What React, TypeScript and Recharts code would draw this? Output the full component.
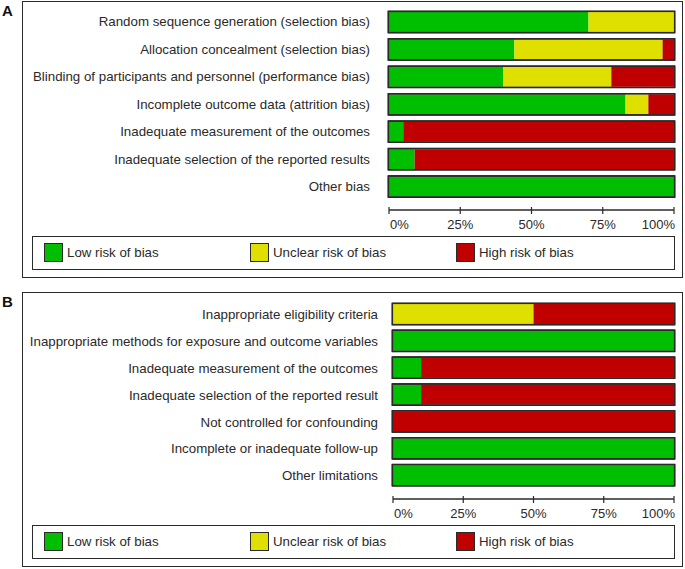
import { BarChart, Bar, XAxis, YAxis, Rectangle } from 'recharts';

const domainsA = [
  'Random sequence generation (selection bias)',
  'Allocation concealment (selection bias)',
  'Blinding of participants and personnel (performance bias)',
  'Incomplete outcome data (attrition bias)',
  'Inadequate measurement of the outcomes',
  'Inadequate selection of the reported results',
  'Other bias',
];
const lowA = [70, 44, 40, 83, 5, 9, 100];
const unclearA = [30, 52, 38, 8, 0, 0, 0];
const highA = [0, 4, 22, 9, 95, 91, 0];

const domainsB = [
  'Inappropriate eligibility criteria',
  'Inappropriate methods for exposure and outcome variables',
  'Inadequate measurement of the outcomes',
  'Inadequate selection of the reported result',
  'Not controlled for confounding',
  'Incomplete or inadequate follow-up',
  'Other limitations',
];
const lowB = [0, 100, 10, 10, 0, 100, 100];
const unclearB = [50, 0, 0, 0, 0, 0, 0];
const highB = [50, 0, 90, 90, 100, 0, 0];

const xTicks = [0, 25, 50, 75, 100];
const seriesKeys = ['low', 'unclear', 'high'];
const seriesNames = ['Low risk of bias', 'Unclear risk of bias', 'High risk of bias'];
const seriesColors = ['#00bf00', '#e0e000', '#c00000'];

const FONT = '"Liberation Sans", Arial, sans-serif';
const INK = '#2a2a2a';

function build(names: string[], low: number[], unclear: number[], high: number[]) {
  return names.map((name, i) => ({ name, low: low[i], unclear: unclear[i], high: high[i] }));
}

const dataA = build(domainsA, lowA, unclearA, highA);
const dataB = build(domainsB, lowB, unclearB, highB);

// segment + outline of the whole row (drawn just outside the bar so fills never cover it)
function OutlinedSegment(props: any) {
  const { x, y, width, height, fill, background } = props;
  return (
    <g>
      {width > 0 && <Rectangle x={x} y={y} width={width} height={height} fill={fill} />}
      {background && (
        <rect
          x={background.x - 0.6}
          y={y - 0.6}
          width={background.width + 1.2}
          height={height + 1.2}
          fill="none"
          stroke={INK}
          strokeWidth={1.3}
        />
      )}
    </g>
  );
}

function PercentTick(props: any) {
  const { x, y, payload } = props;
  const v = payload.value;
  const anchor = v === 0 ? 'start' : v === 100 ? 'end' : 'middle';
  const tx = v === 0 || v === 100 ? x + 1 : x;
  return (
    <g>
      <line x1={x} x2={x} y1={y - 3} y2={y + 4} stroke={INK} strokeWidth={1.2} />
      <text x={tx} y={y + 19} textAnchor={anchor} fontSize={13} fill={INK} fontFamily={FONT}>
        {v}%
      </text>
    </g>
  );
}

function RiskChart({ data, top, height, marginTop, axisWidth, padBottom, labelGap }: any) {
  return (
    <div style={{ position: 'absolute', left: 0, top }}>
      <BarChart
        width={685}
        height={height}
        data={data}
        layout="vertical"
        margin={{ top: marginTop, right: 11, left: 0, bottom: 0 }}
      >
        <XAxis
          type="number"
          domain={[0, 100]}
          ticks={xTicks}
          height={30}
          tickSize={0}
          tickMargin={0}
          tickLine={false}
          axisLine={{ stroke: INK, strokeWidth: 1.5 }}
          tick={<PercentTick />}
          interval={0}
        />
        <YAxis
          type="category"
          dataKey="name"
          width={axisWidth}
          axisLine={false}
          tickLine={false}
          tickSize={0}
          tickMargin={labelGap}
          padding={{ top: 0, bottom: padBottom }}
          interval={0}
          tick={{ fontSize: 13.3, fill: INK, fontFamily: FONT }}
        />
        {seriesKeys.map((k, i) => (
          <Bar
            key={k}
            dataKey={k}
            stackId="r"
            barSize={20}
            fill={seriesColors[i]}
            isAnimationActive={false}
            shape={<OutlinedSegment />}
          />
        ))}
      </BarChart>
    </div>
  );
}

function LegendBox({ top }: { top: number }) {
  const offsets = [11, 217, 423];
  return (
    <div
      style={{
        position: 'absolute',
        left: 32,
        top,
        width: 641,
        height: 32,
        border: `1.5px solid ${INK}`,
        fontFamily: FONT,
        fontSize: 13.3,
        color: INK,
      }}
    >
      {seriesNames.map((n, i) => (
        <div key={n} style={{ position: 'absolute', left: offsets[i], top: 6, display: 'flex', alignItems: 'center' }}>
          <div style={{ width: 17, height: 17, background: seriesColors[i], border: `1px solid ${INK}` }} />
          <span style={{ marginLeft: 4 }}>{n}</span>
        </div>
      ))}
    </div>
  );
}

function PanelFrame({ top, height, label }: { top: number; height: number; label: string }) {
  return (
    <>
      <div
        style={{
          position: 'absolute',
          left: 22,
          top,
          width: 659,
          height,
          border: `1.5px solid ${INK}`,
        }}
      />
      <div
        style={{
          position: 'absolute',
          left: 2,
          top: top + 1,
          fontFamily: FONT,
          fontWeight: 'bold',
          fontSize: 15,
          color: '#111',
        }}
      >
        {label}
      </div>
    </>
  );
}

export default function App() {
  return (
    <div style={{ position: 'absolute', left: 0, top: 0, width: 685, height: 569, background: '#fff' }}>
      <PanelFrame top={1} height={275} label="A" />
      <PanelFrame top={292} height={273} label="B" />
      <RiskChart data={dataA} top={0} height={240} marginTop={8} axisWidth={389} padBottom={10} labelGap={19} />
      <RiskChart data={dataB} top={290} height={239} marginTop={11} axisWidth={393} padBottom={10} labelGap={15} />
      <LegendBox top={236} />
      <LegendBox top={525} />
    </div>
  );
}
